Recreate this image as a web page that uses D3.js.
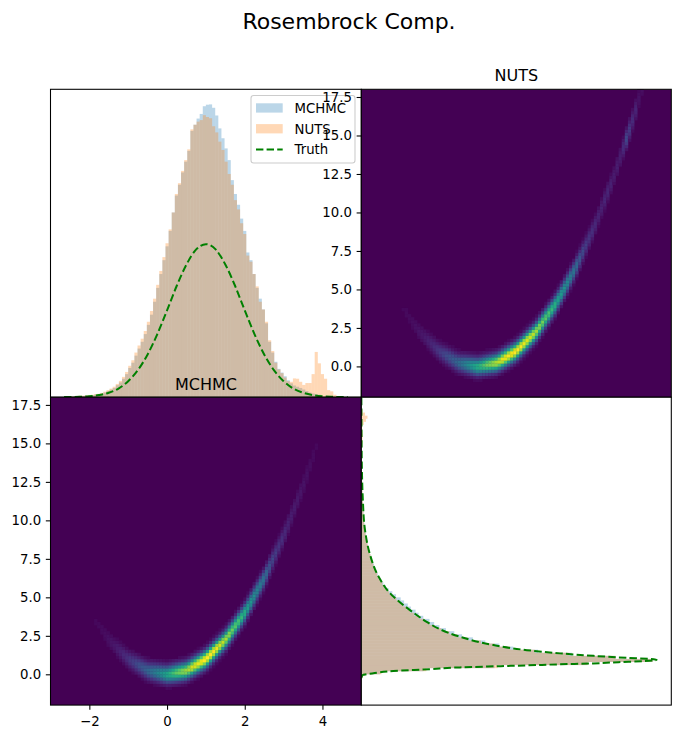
<!DOCTYPE html>
<html><head><meta charset="utf-8">
<script src="https://cdn.jsdelivr.net/npm/d3@7"></script>
<style>
body{margin:0;background:#fff}
svg{display:block}
text{font-family:"DejaVu Sans",sans-serif}
</style>
</head><body>
<svg id="chart" width="680" height="739"></svg>
<script>
// ---------------- DATA ----------------
const chartTitle = "Rosembrock Comp.";
const seriesNames = ["MCHMC", "NUTS", "Truth"];

// x-marginal histograms: 100 bins of width 0.08 starting at x = -3
const xBinStart = -3, xBinWidth = 0.08;
const mchmcX = [
 0,0,0,0,0,0.001,0.002,0.003,0.003,0.004,
 0.004,0.005,0.006,0.007,0.008,0.009,0.012,0.015,0.02,0.025,
 0.03,0.039,0.048,0.06,0.075,0.095,0.112,0.135,0.158,0.18,
 0.205,0.235,0.268,0.31,0.355,0.4,0.445,0.49,0.54,0.6,
 0.655,0.69,0.73,0.765,0.8,0.865,0.885,0.905,0.92,0.945,
 0.95,0.951,0.94,0.915,0.873,0.841,0.808,0.77,0.705,0.66,
 0.625,0.58,0.54,0.47,0.445,0.4,0.355,0.32,0.285,0.24,
 0.18,0.145,0.115,0.092,0.08,0.068,0.055,0.045,0.038,0.034,
 0.03,0.025,0.02,0.015,0.012,0.01,0.008,0,0,0,
 0,0,0,0,0,0,0,0,0,0];
const nutsX = [
 0,0,0,0,0,0.001,0.003,0.003,0.004,0.005,
 0.005,0.006,0.007,0.008,0.01,0.011,0.014,0.018,0.023,0.028,
 0.034,0.043,0.053,0.066,0.082,0.102,0.12,0.145,0.168,0.19,
 0.215,0.245,0.28,0.32,0.365,0.41,0.455,0.5,0.545,0.6,
 0.66,0.695,0.735,0.77,0.805,0.87,0.885,0.895,0.9,0.916,
 0.91,0.906,0.88,0.86,0.83,0.803,0.765,0.725,0.69,0.64,
 0.61,0.565,0.53,0.46,0.44,0.4,0.36,0.31,0.285,0.245,
 0.185,0.15,0.112,0.09,0.078,0.064,0.052,0.05,0.061,0.06,
 0.05,0.04,0.046,0.046,0.075,0.147,0.11,0.075,0.06,0.023,
 0.019,0.008,0.003,0,0,0,0,0,0,0];
const truthXx = [-2.65,-2.5,-2.25,-2,-1.75,-1.5,-1.25,-1,-0.75,-0.5,-0.25,0,0.25,0.5,0.75,1,
 1.25,1.5,1.75,2,2.25,2.5,2.75,3,3.25,3.5,3.75,4,4.25,4.5,4.65];
const truthXv = [0.0003,0.0005,0.0013,0.003,0.0069,0.0145,0.028,0.052,0.088,0.139,0.205,0.282,0.362,0.431,0.48,0.497,
 0.48,0.431,0.362,0.282,0.205,0.139,0.088,0.052,0.028,0.0145,0.0069,0.003,0.0013,0.0005,0.0003];

// y-marginal histograms: 100 bins of height 0.2 starting at y = -2
const yBinStart = -2, yBinHeight = 0.2;
const mchmcY = [
 0,0,0,0,0,0,0,0,0,0.005,
 0.06,0.2,0.43,0.73,0.94,0.82,0.68,0.57,0.49,0.445,
 0.40,0.36,0.325,0.30,0.273,0.252,0.235,0.22,0.2,0.185,
 0.175,0.16,0.15,0.138,0.127,0.112,0.1,0.088,0.079,0.071,
 0.064,0.058,0.053,0.049,0.045,0.041,0.037,0.034,0.03,0.027,
 0.024,0.022,0.02,0.018,0.016,0.014,0.012,0.011,0.01,0.009,
 0.008,0.0075,0.007,0.0065,0.006,0.0055,0.005,0.0045,0.004,0.0038,
 0.0035,0.003,0.0028,0.0025,0.0022,0.002,0.0018,0.0016,0.0015,0.0013,
 0.0012,0.001,0.0009,0.0008,0.0007,0.0006,0.0005,0.0004,0.0003,0.0002,
 0.0001,0,0,0,0,0,0,0,0,0];
const nutsY = [
 0,0,0,0,0,0,0,0,0,0.006,
 0.065,0.21,0.44,0.73,0.94,0.82,0.67,0.56,0.48,0.43,
 0.386,0.344,0.31,0.284,0.258,0.237,0.22,0.203,0.186,0.17,
 0.157,0.146,0.135,0.124,0.113,0.1,0.09,0.082,0.074,0.068,
 0.062,0.056,0.051,0.047,0.043,0.039,0.036,0.033,0.03,0.027,
 0.024,0.022,0.02,0.018,0.016,0.014,0.012,0.011,0.01,0.009,
 0.008,0.0075,0.007,0.0065,0.006,0.0055,0.005,0.0045,0.004,0.0038,
 0.0035,0.003,0.0028,0.0025,0.0022,0.002,0.0018,0.0016,0.0015,0.0013,
 0.0012,0.0012,0.0012,0.0015,0.003,0.004,0.004,0.005,0.004,0.003,
 0.003,0.008,0.015,0.02,0.012,0.004,0.001,0,0,0];
const truthYy = [-0.25,-0.05,0.06,0.21,0.33,0.45,0.53,0.58,0.65,0.71,0.79,0.86,0.94,1.0,1.07,1.2,1.36,1.57,1.9,
 2.44,2.98,3.41,4.17,5.26,6.33,7.85,9.36,11.31,13.26,15.5,18];
const truthYv = [0,0.004,0.035,0.103,0.22,0.318,0.45,0.534,0.64,0.748,0.83,0.91,0.953,0.93,0.856,0.748,0.641,0.534,0.426,
 0.318,0.248,0.211,0.157,0.093,0.056,0.027,0.012,0.005,0.002,0.0008,0.0003];

// ridge of the 2-D histograms (centre line) and its spread in y
const ridgeX = [-3,-2.5,-2,-1.5,-1,-0.5,0,0.5,1,1.5,2,2.5,3,3.5,4,4.5,5];
const ridgeY = [9,6.25,4,2.25,1,0.25,0,0.25,1,2.25,4,6.25,9,12.25,16,20.25,25];
const ridgeSpread = 0.32;

const xTicks = [-2, 0, 2, 4];
const yTicks = [0, 2.5, 5, 7.5, 10, 12.5, 15, 17.5];

// ---------------- LAYOUT ----------------
const L = 50.5, M = 361.3, R = 671.3, T = 89.3, MY = 397.2, B = 705.1;
const FS = 13.3, TICK = 4.67, LW = 1.07;
const C_BLUE = "#1f77b4", C_ORANGE = "#ff7f0e", C_GREEN = "#008000";

const svg = d3.select("#chart");
const defs = svg.append("defs");
function clip(id, x, y, w, h) {
  defs.append("clipPath").attr("id", id).append("rect").attr("x", x).attr("y", y).attr("width", w).attr("height", h);
  return "url(#" + id + ")";
}

const xLeft = d3.scaleLinear().domain([-3, 5]).range([L, M]);
const xRight = d3.scaleLinear().domain([-3, 5]).range([M, R]);
const yUpper = d3.scaleLinear().domain([-2, 18]).range([MY, T]);
const yLower = d3.scaleLinear().domain([-2, 18]).range([B, MY]);
const densUp = d3.scaleLinear().domain([0, 1]).range([MY, T]);
const densRight = d3.scaleLinear().domain([0, 1]).range([M, R]);
const ridge = d3.scaleLinear().domain(ridgeX).range(ridgeY);

// suptitle
svg.append("text").attr("x", 349).attr("y", 28.5).attr("text-anchor", "middle")
  .style("font-size", "22px").text(chartTitle);

function styleAxis(g) {
  g.select(".domain").remove();
  g.selectAll(".tick line").attr("stroke", "#000").attr("stroke-width", LW);
  g.selectAll(".tick text").attr("fill", "#000").style("font-size", FS + "px")
    .style("font-family", '"DejaVu Sans",sans-serif');
  g.attr("font-family", null).attr("font-size", null);
}
function frame(x, y, w, h) {
  svg.append("rect").attr("x", x).attr("y", y).attr("width", w).attr("height", h)
    .attr("fill", "none").attr("stroke", "#000").attr("stroke-width", LW);
}

// ---------------- TOP-LEFT: x marginal ----------------
{
  const g = svg.append("g").attr("clip-path", clip("cTL", L, T, M - L, MY - T));
  g.append("rect").attr("x", L).attr("y", T).attr("width", M - L).attr("height", MY - T).attr("fill", "#fff");
  [[mchmcX, C_BLUE], [nutsX, C_ORANGE]].forEach(([arr, col]) => {
    g.append("g").selectAll("rect").data(arr).join("rect")
      .attr("x", (d, i) => xLeft(xBinStart + i * xBinWidth))
      .attr("width", (d, i) => xLeft(xBinStart + (i + 1) * xBinWidth) - xLeft(xBinStart + i * xBinWidth))
      .attr("y", d => densUp(d)).attr("height", d => densUp(0) - densUp(d))
      .attr("fill", col).attr("fill-opacity", 0.3);
  });
  const line = d3.line().x((d, i) => xLeft(truthXx[i])).y(d => densUp(d)).curve(d3.curveMonotoneX);
  g.append("path").attr("d", line(truthXv)).attr("fill", "none").attr("stroke", C_GREEN)
    .attr("stroke-width", 2).attr("stroke-dasharray", "7.4,3.2");
  frame(L, T, M - L, MY - T);

  // legend
  const lg = svg.append("g");
  lg.append("rect").attr("x", 251).attr("y", 95.5).attr("width", 104).attr("height", 67.5).attr("rx", 2.7)
    .attr("fill", "#fff").attr("fill-opacity", 0.8).attr("stroke", "#cccccc").attr("stroke-width", LW);
  const rows = [108, 128.8, 149.6];
  lg.append("rect").attr("x", 256).attr("y", rows[0] - 4.7).attr("width", 26.7).attr("height", 9.3)
    .attr("fill", C_BLUE).attr("fill-opacity", 0.3);
  lg.append("rect").attr("x", 256).attr("y", rows[1] - 4.7).attr("width", 26.7).attr("height", 9.3)
    .attr("fill", C_ORANGE).attr("fill-opacity", 0.3);
  lg.append("line").attr("x1", 256).attr("x2", 282.7).attr("y1", rows[2]).attr("y2", rows[2])
    .attr("stroke", C_GREEN).attr("stroke-width", 2).attr("stroke-dasharray", "7.4,3.2");
  seriesNames.forEach((n, i) => {
    lg.append("text").attr("x", 294.5).attr("y", rows[i] + 4.8).style("font-size", FS + "px").text(n);
  });
}

// ---------------- heat maps ----------------
function erf(x) {
  const s = Math.sign(x); x = Math.abs(x);
  const t = 1 / (1 + 0.3275911 * x);
  const y = 1 - (((((1.061405429 * t - 1.453152027) * t) + 1.421413741) * t - 0.284496736) * t + 0.254829592) * t * Math.exp(-x * x);
  return s * y;
}
const Phi = z => 0.5 * (1 + erf(z / Math.SQRT2));

function cells(counts) {
  const out = [];
  const nY = Math.round(20 / yBinHeight);
  counts.forEach((c, i) => {
    if (c <= 0) return;
    const x0 = xBinStart + i * xBinWidth;
    const sub = d3.range(7).map(k => ridge(x0 + (k + 0.5) / 7 * xBinWidth));
    for (let j = 0; j < nY; j++) {
      const y0 = yBinStart + j * yBinHeight, y1 = y0 + yBinHeight;
      let f = 0;
      sub.forEach(r => { f += Phi((y1 - r) / ridgeSpread) - Phi((y0 - r) / ridgeSpread); });
      f /= sub.length;
      const v = c * f;
      if (v > 1e-5) out.push({ x0, y0, v });
    }
  });
  return out;
}

function heatmap(counts, xs, ys, id, px, py, pw, ph) {
  const data = cells(counts);
  const vmax = d3.max(data, d => d.v);
  const norm = d3.scalePow().exponent(0.8).domain([0, vmax]).range([0, 1]);
  const color = v => d3.interpolateViridis(norm(v));
  const g = svg.append("g").attr("clip-path", clip(id, px, py, pw, ph));
  g.append("rect").attr("x", px).attr("y", py).attr("width", pw).attr("height", ph).attr("fill", color(0));
  g.append("g").selectAll("rect").data(data.filter(d => norm(d.v) > 0.02)).join("rect")
    .attr("x", d => xs(d.x0)).attr("y", d => ys(d.y0 + yBinHeight))
    .attr("width", d => xs(d.x0 + xBinWidth) - xs(d.x0) + 0.35)
    .attr("height", d => ys(d.y0) - ys(d.y0 + yBinHeight) + 0.35)
    .attr("fill", d => color(d.v));
  frame(px, py, pw, ph);
}

// ---------------- TOP-RIGHT: NUTS ----------------
heatmap(nutsX, xRight, yUpper, "cTR", M, T, R - M, MY - T);
svg.append("g").attr("transform", `translate(${M},0)`)
  .call(d3.axisLeft(yUpper).tickValues(yTicks).tickFormat(d3.format(".1f")).tickSize(TICK).tickPadding(4.67))
  .call(styleAxis);
svg.append("text").attr("x", (M + R) / 2).attr("y", T - 8).attr("text-anchor", "middle")
  .style("font-size", "16px").text(seriesNames[1]);

// ---------------- BOTTOM-LEFT: MCHMC ----------------
heatmap(mchmcX, xLeft, yLower, "cBL", L, MY, M - L, B - MY);
svg.append("g").attr("transform", `translate(${L},0)`)
  .call(d3.axisLeft(yLower).tickValues(yTicks).tickFormat(d3.format(".1f")).tickSize(TICK).tickPadding(4.67))
  .call(styleAxis);
svg.append("g").attr("transform", `translate(0,${B})`)
  .call(d3.axisBottom(xLeft).tickValues(xTicks).tickFormat(d3.format("d")).tickSize(TICK).tickPadding(6.5))
  .call(styleAxis);
svg.append("text").attr("x", (L + M) / 2).attr("y", MY - 7.5).attr("text-anchor", "middle")
  .style("font-size", "16px").text(seriesNames[0]);

// ---------------- BOTTOM-RIGHT: y marginal ----------------
{
  const g = svg.append("g").attr("clip-path", clip("cBR", M, MY, R - M, B - MY));
  g.append("rect").attr("x", M).attr("y", MY).attr("width", R - M).attr("height", B - MY).attr("fill", "#fff");
  [[mchmcY, C_BLUE], [nutsY, C_ORANGE]].forEach(([arr, col]) => {
    g.append("g").selectAll("rect").data(arr).join("rect")
      .attr("x", densRight(0))
      .attr("width", d => densRight(d) - densRight(0))
      .attr("y", (d, i) => yLower(yBinStart + (i + 1) * yBinHeight))
      .attr("height", (d, i) => yLower(yBinStart + i * yBinHeight) - yLower(yBinStart + (i + 1) * yBinHeight))
      .attr("fill", col).attr("fill-opacity", 0.3);
  });
  const line = d3.line().x(d => densRight(d)).y((d, i) => yLower(truthYy[i])).curve(d3.curveMonotoneY);
  g.append("path").attr("d", line(truthYv)).attr("fill", "none").attr("stroke", C_GREEN)
    .attr("stroke-width", 2).attr("stroke-dasharray", "7.4,3.2");
  frame(M, MY, R - M, B - MY);
}
</script>
</body></html>
